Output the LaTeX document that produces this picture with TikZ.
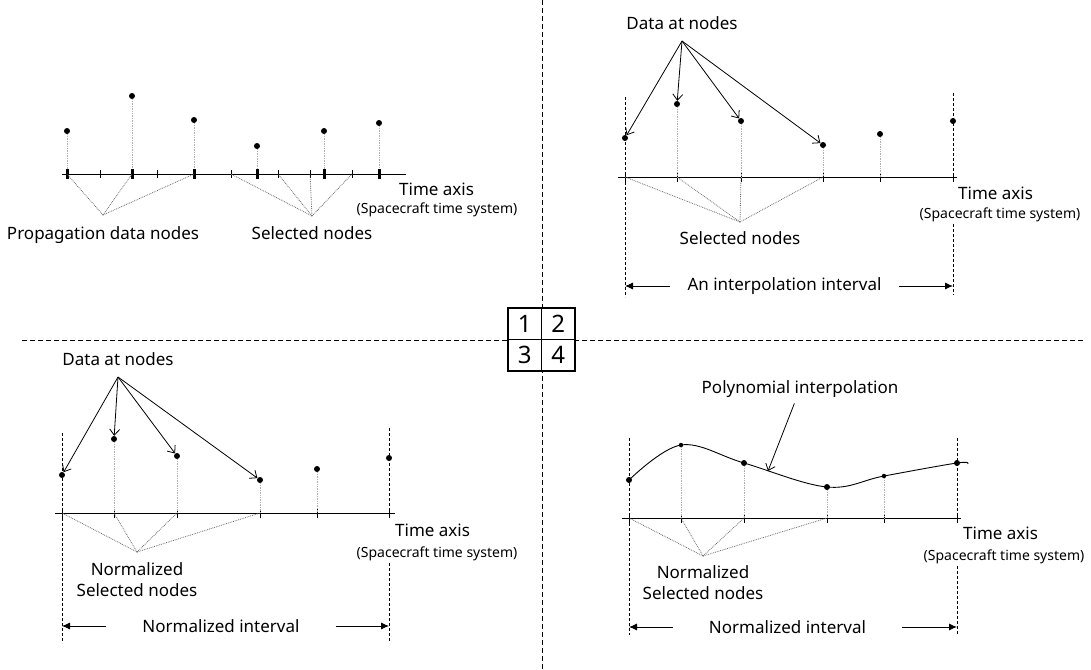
\documentclass[tikz,border=0pt]{standalone}
\usepackage{fontspec}
\setmainfont{Noto Sans}
\usepackage{tikz}
\usetikzlibrary{arrows.meta, positioning}
\definecolor{stemgray}{RGB}{175,175,175}
\definecolor{linkgray}{RGB}{105,105,105}

\tikzset{
  dot/.style={circle, fill=black, inner sep=0pt, minimum size=6pt},
  smalldot/.style={dot, minimum size=4.5pt},
  lbl/.style={font=\fontsize{17}{21}\selectfont, inner sep=2pt},
  sublbl/.style={font=\fontsize{14}{16}\selectfont, inner sep=2pt},
  intlbl/.style={lbl, minimum width=229pt, inner sep=0pt},
  cell/.style={draw, line width=1.3pt, fill=white, minimum width=33.5pt, minimum height=31.5pt, inner sep=0pt, font=\fontsize{24}{24}\selectfont},
  axisline/.style={line width=1pt},
  stem/.style={stemgray, densely dotted, line width=0.7pt},
  link/.style={linkgray, densely dotted, line width=0.8pt},
  bound/.style={dash pattern=on 3pt off 2pt, line width=0.7pt},
  divider/.style={dash pattern=on 5pt off 3pt, line width=0.7pt},
  dataarrow/.style={-{Straight Barb[length=6pt,width=10pt]}, line width=0.8pt},
  intarrow/.style={-{Latex[length=8pt,width=7pt]}, line width=0.8pt}
}

\begin{document}
\begin{tikzpicture}[x=1pt, y=-1pt]
\useasboundingbox (0,0) rectangle (1091,669);

% Quadrant dividers
\coordinate (vtop) at (542,0);
\coordinate (vbot) at (542,669);
\coordinate (hleft) at (22,340);
\coordinate (hright) at (1085,340);
\draw[divider] (vtop) -- (vbot);
\draw[divider] (hleft) -- (hright);

% Quadrant key
\node[cell] (k1) at (524.75,323.75) {1};
\node[cell] (k2) at (558.25,323.75) {2};
\node[cell] (k3) at (524.75,355.25) {3};
\node[cell] (k4) at (558.25,355.25) {4};

%%% Quadrant 1: propagation data on the time axis
\coordinate (q1s) at (62,174);
\coordinate (q1e) at (406,174);
\draw[axisline] (q1s) -- (q1e);
% propagation data nodes
\foreach \i/\x/\y in {1/67/131, 2/132/96, 3/194/120, 4/257/146, 5/324/131, 6/379/123} {
  \node[dot] (q1d\i) at (\x,\y) {};
  \coordinate (q1p\i) at (\x,174);
  \draw[stem] (q1d\i) -- (q1p\i);
  \draw[line width=3pt] (\x,169) -- (\x,179);
}
% selected nodes
\foreach \i/\x in {1/100, 2/157, 3/231, 4/278, 5/310, 6/352} {
  \coordinate (q1t\i) at (\x,174);
  \draw[axisline] (\x,170) -- (\x,178);
}
\coordinate (q1pa) at (103,215);
\foreach \i in {1,2,3} \draw[link] (q1pa) -- (q1p\i);
\node[lbl, below=9pt of q1pa] (q1pl) {Propagation data nodes};
\coordinate (q1sa) at (312,216);
\foreach \i in {3,4,5,6} \draw[link] (q1sa) -- (q1t\i);
\node[lbl, below=8pt of q1sa] (q1sl) {Selected nodes};
% axis labels
\node[lbl, anchor=west] (q1ta) at (397,189) {Time axis};
\node[sublbl] (q1ts) at (437,210) {(Spacecraft time system)};

%%% Quadrant 2: an interpolation interval
\coordinate (q2s) at (618,177);
\coordinate (q2e) at (957,177);
\draw[axisline] (q2s) -- (q2e);
\foreach \i/\x/\y in {1/625/138, 2/677/104, 3/741/121, 4/823/145, 5/880/134, 6/953/121} {
  \node[dot] (q2d\i) at (\x,\y) {};
  \coordinate (q2t\i) at (\x,177);
  \draw[axisline] (\x,173) -- (\x,182);
}
\foreach \i in {2,...,5} \draw[stem] (q2d\i) -- (q2t\i);
% axis labels
\node[lbl, anchor=west] (q2ta) at (956,193) {Time axis};
\node[sublbl] (q2ts) at (1000,215) {(Spacecraft time system)};
% interval bounds
\coordinate (q2lt) at (625,97);
\coordinate (q2lb) at (625,297);
\coordinate (q2rt) at (953,93);
\coordinate (q2rb) at (953,295);
\draw[bound] (q2lt) -- (q2lb);
\draw[bound] (q2rt) -- (q2t6);
\draw[bound] (q2ts.south -| q2rb) -- (q2rb);
% data at nodes
\coordinate (q2da) at (682,41);
\node[lbl, above=9pt of q2da] (q2dl) {Data at nodes};
\foreach \i in {1,...,4} \draw[dataarrow] (q2da) -- (q2d\i);
% selected nodes
\coordinate (q2sa) at (740,222);
\foreach \i in {1,...,4} \draw[link] (q2sa) -- (q2t\i);
\node[lbl, below=7pt of q2sa] (q2sl) {Selected nodes};
% interval
\node[intlbl] (q2iv) at (784.5,286) {An interpolation interval};
\coordinate (q2il) at (625,286);
\coordinate (q2ir) at (953,286);
\draw[intarrow] (q2iv) -- (q2il);
\draw[intarrow] (q2iv) -- (q2ir);

%%% Quadrant 3: normalized interval
\coordinate (q3s) at (55,513);
\coordinate (q3e) at (395,513);
\draw[axisline] (q3s) -- (q3e);
\foreach \i/\x/\y in {1/62/475, 2/114/439, 3/177/456, 4/260/480, 5/317/469, 6/389/458} {
  \node[dot] (q3d\i) at (\x,\y) {};
  \coordinate (q3t\i) at (\x,513);
  \draw[axisline] (\x,509) -- (\x,518);
}
\foreach \i in {2,...,5} \draw[stem] (q3d\i) -- (q3t\i);
% axis labels
\node[lbl, anchor=west] (q3ta) at (393,530) {Time axis};
\node[sublbl] (q3ts) at (437,554) {(Spacecraft time system)};
% interval bounds
\coordinate (q3lt) at (62,433);
\coordinate (q3lb) at (62,643);
\coordinate (q3rt) at (389,428);
\coordinate (q3rb) at (389,643);
\draw[bound] (q3lt) -- (q3lb);
\draw[bound] (q3rt) -- (q3t6);
\draw[bound] (q3ts.south -| q3rb) -- (q3rb);
% data at nodes
\coordinate (q3da) at (118,377);
\node[lbl, above=9pt of q3da] (q3dl) {Data at nodes};
\foreach \i in {1,...,4} \draw[dataarrow] (q3da) -- (q3d\i);
% normalized selected nodes
\coordinate (q3sa) at (137,552);
\foreach \i in {1,...,4} \draw[link] (q3sa) -- (q3t\i);
\node[lbl, align=center, below=8pt of q3sa] (q3sl) {Normalized\\Selected nodes};
% interval
\node[intlbl] (q3iv) at (221,626) {Normalized interval};
\coordinate (q3il) at (62,626);
\coordinate (q3ir) at (389,626);
\draw[intarrow] (q3iv) -- (q3il);
\draw[intarrow] (q3iv) -- (q3ir);

%%% Quadrant 4: polynomial interpolation
\coordinate (q4s) at (622,518);
\coordinate (q4e) at (961,518);
\draw[axisline] (q4s) -- (q4e);
\foreach \i/\x/\y/\s in {1/629/480/dot, 2/681/445/smalldot, 3/744/463/dot, 4/827/487/dot, 5/884/476/smalldot, 6/957/463/dot} {
  \node[\s] (q4d\i) at (\x,\y) {};
  \coordinate (q4t\i) at (\x,518);
  \draw[axisline] (\x,514) -- (\x,523);
}
\foreach \i in {2,...,5} \draw[stem] (q4d\i) -- (q4t\i);
\coordinate (q4ce) at (968,464);
\draw[line width=0.9pt] plot[smooth, tension=0.6] coordinates {(q4d1.center) (q4d2.center) (q4d3.center) (q4d4.center) (q4d5.center) (q4d6.center) (q4ce)};
\node[lbl] (q4pl) at (800,389) {Polynomial interpolation};
\coordinate (q4pc) at (768,471);
\draw[dataarrow, shorten <=4pt] (q4pl) -- (q4pc);
% axis labels
\node[lbl, anchor=west] (q4ta) at (961,533) {Time axis};
\node[sublbl] (q4ts) at (1004,557) {(Spacecraft time system)};
% interval bounds
\coordinate (q4lt) at (629,438);
\coordinate (q4lb) at (629,635);
\coordinate (q4rt) at (957,438);
\coordinate (q4rb) at (957,635);
\draw[bound] (q4lt) -- (q4lb);
\draw[bound] (q4rt) -- (q4t6);
\draw[bound] (q4ts.south -| q4rb) -- (q4rb);
% normalized selected nodes
\coordinate (q4sa) at (703,556);
\foreach \i in {1,...,4} \draw[link] (q4sa) -- (q4t\i);
\node[lbl, align=center, below=7pt of q4sa] (q4sl) {Normalized\\Selected nodes};
% interval
\node[intlbl] (q4iv) at (787.5,627) {Normalized interval};
\coordinate (q4il) at (629,627);
\coordinate (q4ir) at (957,627);
\draw[intarrow] (q4iv) -- (q4il);
\draw[intarrow] (q4iv) -- (q4ir);
\end{tikzpicture}
\end{document}
